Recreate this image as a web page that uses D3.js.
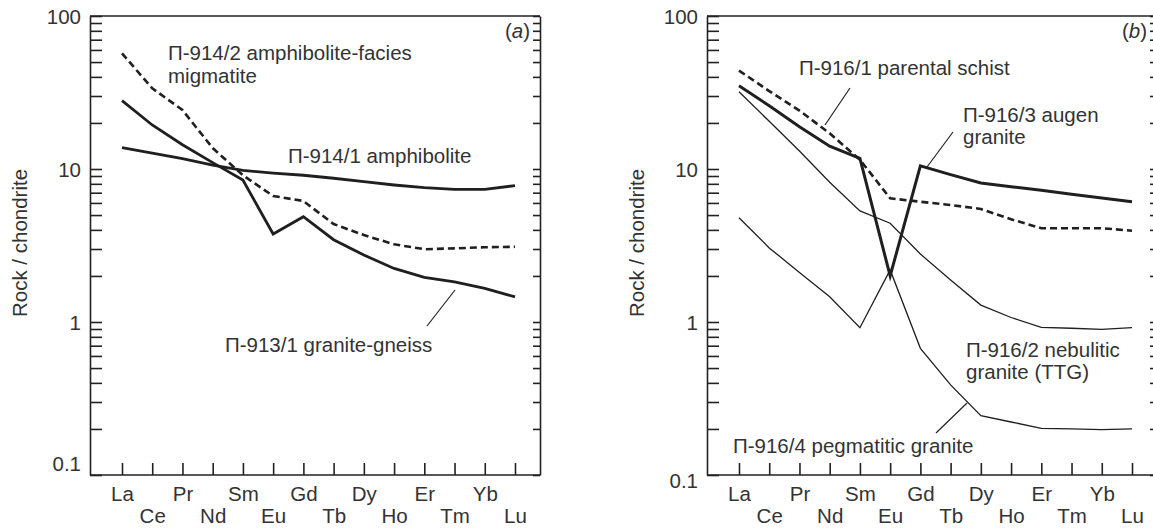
<!DOCTYPE html>
<html>
<head>
<meta charset="utf-8">
<script src="https://cdn.jsdelivr.net/npm/d3@7"></script>
<style>
  body { margin: 0; background: #fff; }
  text { font-family: "Liberation Sans", Arial, sans-serif; fill: #333; }
</style>
</head>
<body>
<div id="chart"></div>
<script>
let w = 1153;
let h = 528;
let fs = "20.5px";

// REE order along the x axis
let elements = ["La","Ce","Pr","Nd","Sm","Eu","Gd","Tb","Dy","Ho","Er","Tm","Yb","Lu"];
let majorTicks = [0.1, 1, 10, 100];

// panel (a)
let amphibolite   = [13.8, 12.7, 11.7, 10.6, 9.8, 9.4, 9.1, 8.7, 8.26, 7.86, 7.55, 7.37, 7.37, 7.78];
let migmatite     = [57, 33.7, 24.3, 13.7, 9.1, 6.66, 6.18, 4.37, 3.7, 3.22, 2.99, 3.03, 3.08, 3.1];
let graniteGneiss = [28, 19.4, 14.4, 11.0, 8.47, 3.76, 4.88, 3.45, 2.74, 2.24, 1.96, 1.83, 1.66, 1.46];

// panel (b)
let schist     = [44, 32.3, 24.1, 17.1, 11.5, 6.43, 6.11, 5.82, 5.48, 4.69, 4.1, 4.1, 4.1, 3.95];
let augen      = [35, 25.9, 18.9, 14.1, 11.75, 2.0, 10.5, 9.18, 8.1, 7.66, 7.26, 6.83, 6.46, 6.11];
let nebulitic  = [32, 20.5, 13.1, 8.19, 5.32, 4.42, 2.78, 1.88, 1.29, 1.07, 0.923, 0.91, 0.896, 0.918];
let pegmatitic = [4.8, 3.05, 2.11, 1.46, 0.918, 2.19, 0.673, 0.388, 0.244, 0.222, 0.202, 0.2, 0.198, 0.2];

let viz = d3.select("#chart")
  .append("svg")
  .attr("width", w)
  .attr("height", h)
  .style("background-color", "white");

// all log ticks 0.1 .. 100
let logTicks = [];
[0.1, 1, 10].forEach(function(dec){
  for (let k = 1; k < 10; k++) logTicks.push(+(dec * k).toFixed(2));
});
logTicks.push(100);

function drawPanel(left, series, texts, leaders, tag, zeroOneDy){
  let right = left + 450;
  let top = 16, bottom = 475;

  let xScale = d3.scalePoint().domain(elements).range([left + 32, left + 425]);
  let yScale = d3.scaleLog().domain([0.1, 100]).range([bottom, top]);

  let g = viz.append("g");

  // left axis, ticks pointing inside
  let yAxis = d3.axisLeft(yScale)
    .tickValues(logTicks)
    .tickSizeInner(-12)
    .tickSizeOuter(0)
    .tickPadding(9)
    .tickFormat(function(d){ return majorTicks.indexOf(d) >= 0 ? String(d) : ""; });
  let yg = g.append("g").attr("transform", "translate(" + left + ",0)").call(yAxis);
  yg.selectAll("text").style("font-size", fs).attr("fill", "#333")
    .attr("dy", function(d){ return d === 0.1 ? zeroOneDy : "0.35em"; });

  // right axis, short ticks inside
  let rAxis = d3.axisLeft(yScale).tickValues(logTicks).tickSizeInner(7).tickSizeOuter(0).tickFormat("");
  g.append("g").attr("transform", "translate(" + right + ",0)").call(rAxis);

  // bottom axis with two rows of labels
  let xAxis = d3.axisBottom(xScale).tickSizeInner(-12).tickSizeOuter(0).tickPadding(0);
  let xg = g.append("g").attr("transform", "translate(0," + bottom + ")").call(xAxis);
  xg.select(".domain").attr("d", "M" + left + ",0H" + right);
  xg.selectAll(".tick text")
    .style("font-size", fs)
    .attr("fill", "#333")
    .attr("dy", "0")
    .attr("y", function(d, i){ return i % 2 ? 48 : 26; });

  // top border
  g.append("line").attr("x1", left).attr("x2", right).attr("y1", top).attr("y2", top);

  g.selectAll("path.domain, .tick line, line").attr("stroke", "#222").attr("stroke-width", 1.6);

  // y title
  g.append("text")
    .attr("transform", "translate(" + (left - 63) + "," + 243 + ") rotate(-90)")
    .attr("text-anchor", "middle")
    .style("font-size", fs)
    .text("Rock / chondrite");

  // panel tag
  g.append("text")
    .attr("x", right - 10).attr("y", 38)
    .attr("text-anchor", "end")
    .style("font-size", fs)
    .html("(<tspan font-style='italic'>" + tag + "</tspan>)");

  let line = d3.line()
    .x(function(d, i){ return xScale(elements[i]); })
    .y(function(d){ return yScale(d); });

  series.forEach(function(s){
    g.append("path")
      .datum(s.values)
      .attr("d", line)
      .attr("fill", "none")
      .attr("stroke", "#1f1f1f")
      .attr("stroke-width", s.width)
      .attr("stroke-linejoin", "miter")
      .attr("stroke-dasharray", s.dash || null);
  });

  leaders.forEach(function(l){
    g.append("line")
      .attr("x1", l[0]).attr("y1", l[1]).attr("x2", l[2]).attr("y2", l[3])
      .attr("stroke", "#222").attr("stroke-width", 1.2);
  });

  texts.forEach(function(t){
    g.append("text")
      .attr("x", t[0]).attr("y", t[1])
      .style("font-size", fs)
      .text(t[2]);
  });
}

drawPanel(90,
  [
    {values: amphibolite, width: 2.8},
    {values: migmatite, width: 2.6, dash: "7,4"},
    {values: graniteGneiss, width: 2.8}
  ],
  [
    [168, 60, "П-914/2 amphibolite-facies"],
    [168, 83, "migmatite"],
    [288, 163, "П-914/1 amphibolite"],
    [225, 352, "П-913/1 granite-gneiss"]
  ],
  [[455, 290, 427, 326]],
  "a", "-0.2em");

drawPanel(707,
  [
    {values: schist, width: 2.6, dash: "7,4"},
    {values: augen, width: 3},
    {values: nebulitic, width: 1.3},
    {values: pegmatitic, width: 1.3}
  ],
  [
    [799, 75, "П-916/1 parental schist"],
    [963, 122, "П-916/3 augen"],
    [963, 144, "granite"],
    [966, 357, "П-916/2 nebulitic"],
    [966, 379, "granite (TTG)"],
    [733, 453, "П-916/4 pegmatitic granite"]
  ],
  [[850, 88, 825, 125], [953, 132, 927, 167], [967, 403, 936, 433]],
  "b", "0.6em");
</script>
</body>
</html>
